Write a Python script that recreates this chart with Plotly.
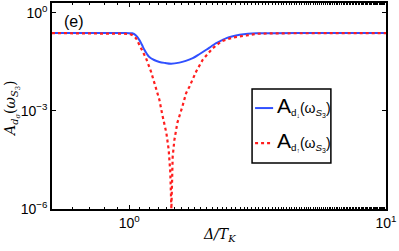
import plotly.graph_objects as go

# Data
x_down = [0.5, 0.8, 0.95, 1.0, 1.027, 1.06, 1.094, 1.12, 1.145, 1.17, 1.197, 1.25, 1.31, 1.38, 1.455, 1.567, 1.66, 1.767, 1.88, 1.994, 2.09, 2.18, 2.29, 2.39, 2.53, 2.69, 2.9, 3.13, 3.6, 4.5, 6.0, 10.0]
y_down = [0.24, 0.24, 0.24, 0.239, 0.236, 0.205, 0.149, 0.105, 0.074, 0.056, 0.0445, 0.036, 0.0315, 0.0292, 0.0278, 0.0300, 0.034, 0.041, 0.055, 0.074, 0.095, 0.118, 0.143, 0.168, 0.192, 0.212, 0.228, 0.236, 0.239, 0.24, 0.24, 0.24]

x_up = [0.5, 0.8, 0.95, 1.0, 1.03, 1.062, 1.111, 1.162, 1.215, 1.26, 1.31, 1.345, 1.395, 1.424, 1.445, 1.459, 1.468, 1.476, 1.499, 1.54, 1.61, 1.665, 1.715, 1.822, 1.932, 2.025, 2.115, 2.28, 2.533, 2.857, 3.13, 3.6, 4.5, 6.0, 10.0]
y_up = [0.24, 0.24, 0.238, 0.228, 0.205, 0.168, 0.083, 0.041, 0.016, 6.5e-3, 2.2e-3, 7.6e-4, 2.1e-4, 6.5e-5, 1.3e-5, 1e-6, 7.9e-6, 4e-5, 1.3e-4, 4.4e-4, 1.35e-3, 3.5e-3, 5.5e-3, 0.016, 0.0366, 0.058, 0.083, 0.133, 0.176, 0.202, 0.228, 0.236, 0.239, 0.24, 0.24]

label_down = "<span style='font-size:21px'>A</span><sub>d<sub>↓</sub></sub>(ω<sub><i>S</i><sub>3</sub></sub>)"
label_up = "<span style='font-size:21px'>A</span><sub>d<sub>↑</sub></sub>(ω<sub><i>S</i><sub>3</sub></sub>)"

x_tickvals = [1, 10]
x_ticktext = ["10<sup>0</sup>", "10<sup>1</sup>"]
y_tickvals = [1, 1e-3, 1e-6]
y_ticktext = ["10<sup>0</sup>", "10<sup>−3</sup>", "10<sup>−6</sup>"]

BLUE = "#3050ff"
RED = "#ff1e1e"

fig = go.Figure()
fig.add_trace(go.Scatter(x=x_down, y=y_down, mode="lines", showlegend=False,
                         line=dict(color=BLUE, width=2, shape="spline", smoothing=1.0)))
fig.add_trace(go.Scatter(x=x_up, y=y_up, mode="lines", showlegend=False,
                         line=dict(color=RED, width=2.2, dash="dot")))

axis_common = dict(showline=True, linecolor="black", linewidth=1.5, mirror="ticks",
                   ticks="inside", ticklen=4, tickcolor="black", showgrid=False, zeroline=False,
                   automargin=False,
                   tickfont=dict(family="Liberation Sans, Arial", size=14, color="black"))

fig.update_xaxes(type="log", range=[-0.301, 1.0], tickvals=x_tickvals, ticktext=x_ticktext,
                 minor=dict(ticks="inside", ticklen=2, tickcolor="black", showgrid=False),
                 **axis_common)
fig.update_yaxes(type="log", range=[-6, 0.3], tickvals=y_tickvals, ticktext=y_ticktext,
                 **axis_common)

serif = dict(family="DejaVu Serif", size=14, color="black")
fig.add_annotation(x=0.5, y=-0.126, xref="paper", yref="paper", showarrow=False,
                   text="<i>Δ/T</i><sub><i>K</i></sub>", font=serif, xanchor="center", yanchor="middle")
fig.add_annotation(x=-0.12, y=0.49, xref="paper", yref="paper", showarrow=False, textangle=-90,
                   text="<i>A</i><sub><i>d</i><sub><i>σ</i></sub></sub>(<i>ω</i><sub><i>S</i><sub>3</sub></sub>)",
                   font=dict(family="DejaVu Serif", size=14, color="black"),
                   xanchor="center", yanchor="middle")

fig.add_annotation(x=0.03, y=0.961, xref="paper", yref="paper", text="(e)", showarrow=False,
                   xanchor="left", yanchor="top", font=dict(family="Liberation Sans, Arial", size=16, color="black"))

# legend drawn manually
fig.add_shape(type="rect", xref="paper", yref="paper", x0=0.599, x1=0.835, y0=0.223, y1=0.583,
              line=dict(color="black", width=1.5), fillcolor="white", layer="above")
fig.add_shape(type="line", xref="paper", yref="paper", x0=0.608, x1=0.662, y0=0.49, y1=0.49,
              line=dict(color=BLUE, width=2), layer="above")
fig.add_shape(type="line", xref="paper", yref="paper", x0=0.608, x1=0.662, y0=0.32, y1=0.32,
              line=dict(color=RED, width=2.2, dash="dot"), layer="above")
legfont = dict(family="Liberation Sans, Arial", size=14, color="black")
fig.add_annotation(x=0.668, y=0.50, xref="paper", yref="paper", showarrow=False, text=label_down,
                   font=legfont, xanchor="left", yanchor="middle")
fig.add_annotation(x=0.668, y=0.33, xref="paper", yref="paper", showarrow=False, text=label_up,
                   font=legfont, xanchor="left", yanchor="middle")

fig.update_layout(width=399, height=251, margin=dict(l=52, r=13, t=3, b=42),
                  plot_bgcolor="white", paper_bgcolor="white", showlegend=False)

fig.write_html("out.html", config={"displayModeBar": False},
               post_script="document.body.style.margin='0px';document.body.style.overflow='hidden';")
